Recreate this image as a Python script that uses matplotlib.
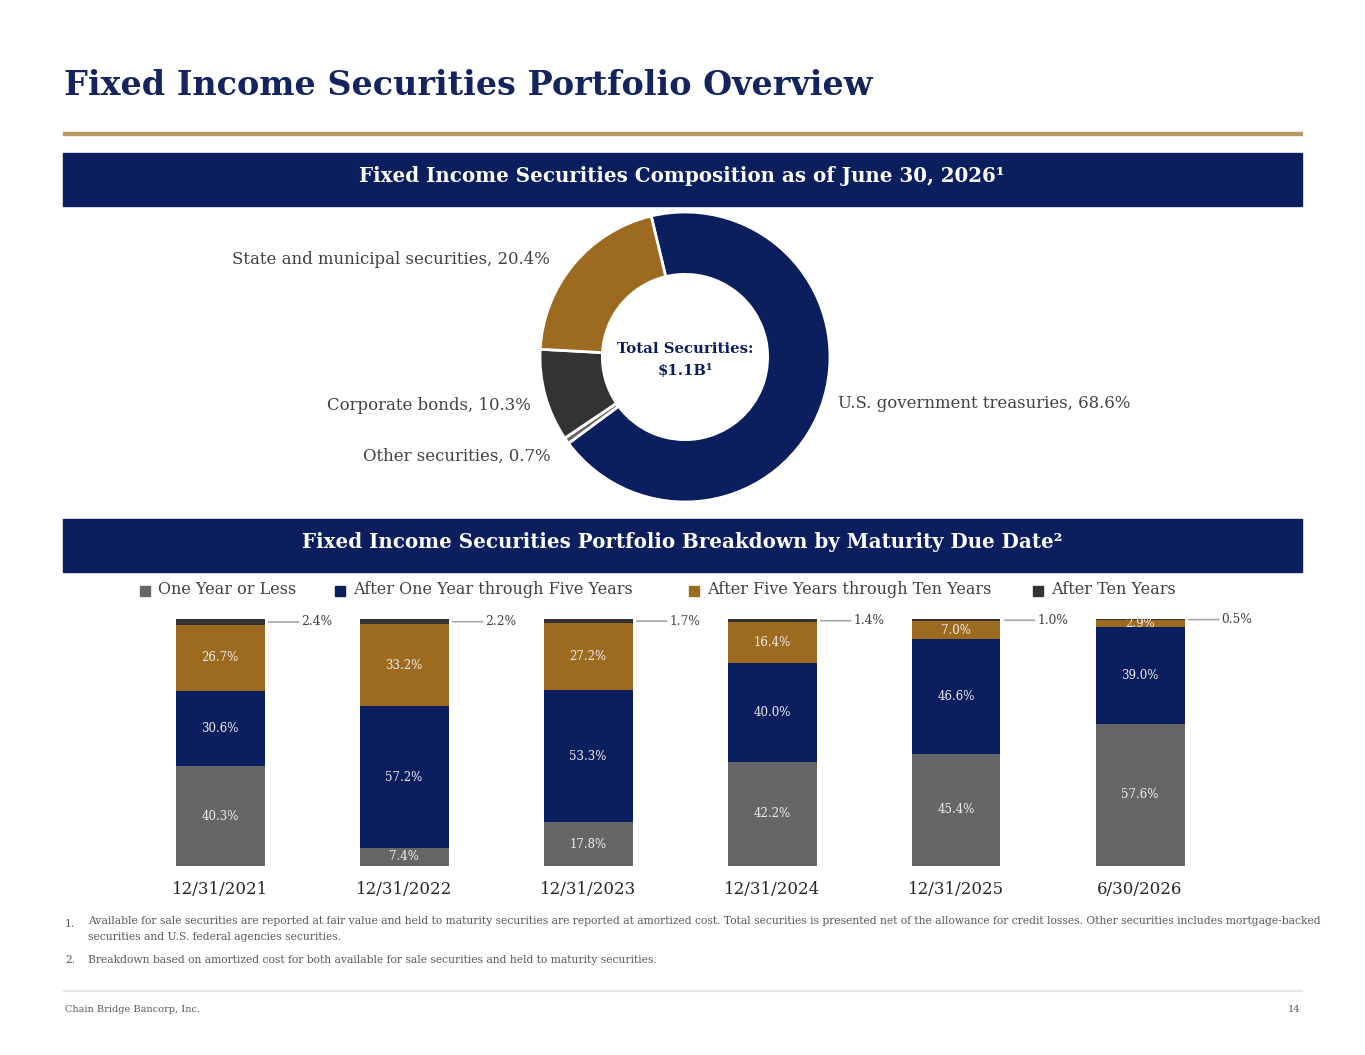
import matplotlib.pyplot as plt
from matplotlib.patches import Rectangle
import numpy as np

# donut data
donut_labels = ['U.S. government treasuries', 'Other securities',
                'Corporate bonds', 'State and municipal securities']
donut_values = [68.6, 0.7, 10.3, 20.4]

# bar data
periods = ['12/31/2021', '12/31/2022', '12/31/2023', '12/31/2024', '12/31/2025', '6/30/2026']
series_names = ['One Year or Less', 'After One Year through Five Years',
                'After Five Years through Ten Years', 'After Ten Years']
one_year = [40.3, 7.4, 17.8, 42.2, 45.4, 57.6]
one_to_five = [30.6, 57.2, 53.3, 40.0, 46.6, 39.0]
five_to_ten = [26.7, 33.2, 27.2, 16.4, 7.0, 2.9]
after_ten = [2.4, 2.2, 1.7, 1.4, 1.0, 0.5]

NAVY = '#0B1F5E'
GOLD = '#9C6B1F'
DARK = '#333333'
GRAY = '#666666'
TEXT = '#404040'
SERIF = ['DejaVu Serif']

W, H = 1365, 1055
fig = plt.figure(figsize=(W / 100, H / 100), dpi=100)
plt.rcParams['font.family'] = SERIF


def fx(x):
    return x / W


def fy(y):
    return 1 - y / H


def box(x0, y0, x1, y1, color):
    fig.patches.append(Rectangle((fx(x0), fy(y1)), fx(x1) - fx(x0), fy(y0) - fy(y1),
                                 transform=fig.transFigure, color=color, zorder=0))


# title and header bars
fig.text(fx(64), fy(85), 'Fixed Income Securities Portfolio Overview', fontsize=24,
         fontweight='heavy', color='#13245E', va='center', ha='left')
box(63, 132, 1302, 134.5, '#B89B63')
box(63, 153, 1302, 206, NAVY)
fig.text(fx(682), fy(176), 'Fixed Income Securities Composition as of June 30, 2026¹',
         fontsize=14.3, fontweight='bold', color='white', ha='center', va='center')
box(63, 519, 1302, 572, NAVY)
fig.text(fx(682), fy(542), 'Fixed Income Securities Portfolio Breakdown by Maturity Due Date²',
         fontsize=14.3, fontweight='bold', color='white', ha='center', va='center')

# donut
cx, cy, r = 685, 357, 145
ax_d = fig.add_axes([fx(cx - r), fy(cy + r), fx(2 * r), (2 * r) / H])
ax_d.pie(donut_values, colors=[NAVY, GRAY, DARK, GOLD], startangle=103.5, counterclock=False,
         radius=1, wedgeprops=dict(width=0.43, edgecolor='white', linewidth=2))
ax_d.set_xlim(-1, 1)
ax_d.set_ylim(-1, 1)
ax_d.set_aspect('equal')
ax_d.axis('off')

fig.text(fx(685), fy(349), 'Total Securities:', fontsize=10.7, fontweight='bold',
         color=NAVY, ha='center', va='center')
fig.text(fx(685), fy(371), r'\$1.1B¹', fontsize=10.7, fontweight='bold',
         color=NAVY, ha='center', va='center')

label_pos = [(838, 404, 'left'), (551, 456, 'right'), (531, 406, 'right'), (550, 259, 'right')]
for name, v, (x, y, ha) in zip(donut_labels, donut_values, label_pos):
    fig.text(fx(x), fy(y), f'{name}, {v}%', fontsize=11.9, color=TEXT, ha=ha, va='center')

# stacked bars
spacing = 184
ax = fig.add_axes([fx(128), fy(866), fx(6 * spacing), 247 / H])
x = np.arange(len(periods))
width = 89 / spacing
series = [one_year, one_to_five, five_to_ten, after_ten]
colors = [GRAY, NAVY, GOLD, DARK]
bottom = np.zeros(len(periods))
for name, vals, c in zip(series_names, series, colors):
    cont = ax.bar(x, vals, width, bottom=bottom, color=c, label=name)
    if name != 'After Ten Years':
        ax.bar_label(cont, labels=[f'{v:.1f}%' for v in vals], label_type='center',
                     fontsize=8.5, color='#EDEDED')
    else:
        for xi, b, v in zip(x, bottom, vals):
            ax.annotate(f'{v:.1f}%', xy=(xi + width / 2, b + v / 2),
                        xytext=(xi + width / 2 + 37 / spacing, b + v / 2),
                        fontsize=8.8, color=TEXT, va='center', ha='left',
                        arrowprops=dict(arrowstyle='-', color='#A6A6A6', lw=1.2,
                                        shrinkA=0, shrinkB=3))
    bottom += np.array(vals)

ax.set_xlim(-0.5, len(periods) - 0.5)
ax.set_ylim(0, 100)
ax.set_xticks(x)
ax.set_xticklabels(periods, fontsize=12, color='#262626')
ax.tick_params(axis='x', length=0, pad=11)
ax.set_yticks([])
for s in ax.spines.values():
    s.set_visible(False)

# legend
leg_x = [140, 335, 689, 1033]
for name, c, lx in zip(series_names, colors, leg_x):
    fig.patches.append(Rectangle((fx(lx), fy(596)), fx(10), 10 / H,
                                 transform=fig.transFigure, color=c))
    fig.text(fx(lx + 18), fy(590), name, fontsize=11.5, color=TEXT, ha='left', va='center')

# footnotes
note_c = '#595959'
fn = 7.75
fig.text(fx(65), fy(924), '1.', fontsize=fn, color=note_c, va='center')
fig.text(fx(88), fy(921), 'Available for sale securities are reported at fair value and held to maturity '
         'securities are reported at amortized cost. Total securities is presented net of the allowance '
         'for credit losses. Other securities includes mortgage-backed',
         fontsize=fn, color=note_c, va='center')
fig.text(fx(88), fy(937), 'securities and U.S. federal agencies securities.',
         fontsize=fn, color=note_c, va='center')
fig.text(fx(65), fy(960), '2.', fontsize=fn, color=note_c, va='center')
fig.text(fx(88), fy(960), 'Breakdown based on amortized cost for both available for sale securities '
         'and held to maturity securities.', fontsize=fn, color=note_c, va='center')

box(63, 990, 1302, 991, '#E6E6E6')
fig.text(fx(65), fy(1010), 'Chain Bridge Bancorp, Inc.', fontsize=7, color=note_c, va='center')
fig.text(fx(1300), fy(1010), '14', fontsize=7, color=note_c, va='center', ha='right')

fig.savefig('out.png', dpi=100)
